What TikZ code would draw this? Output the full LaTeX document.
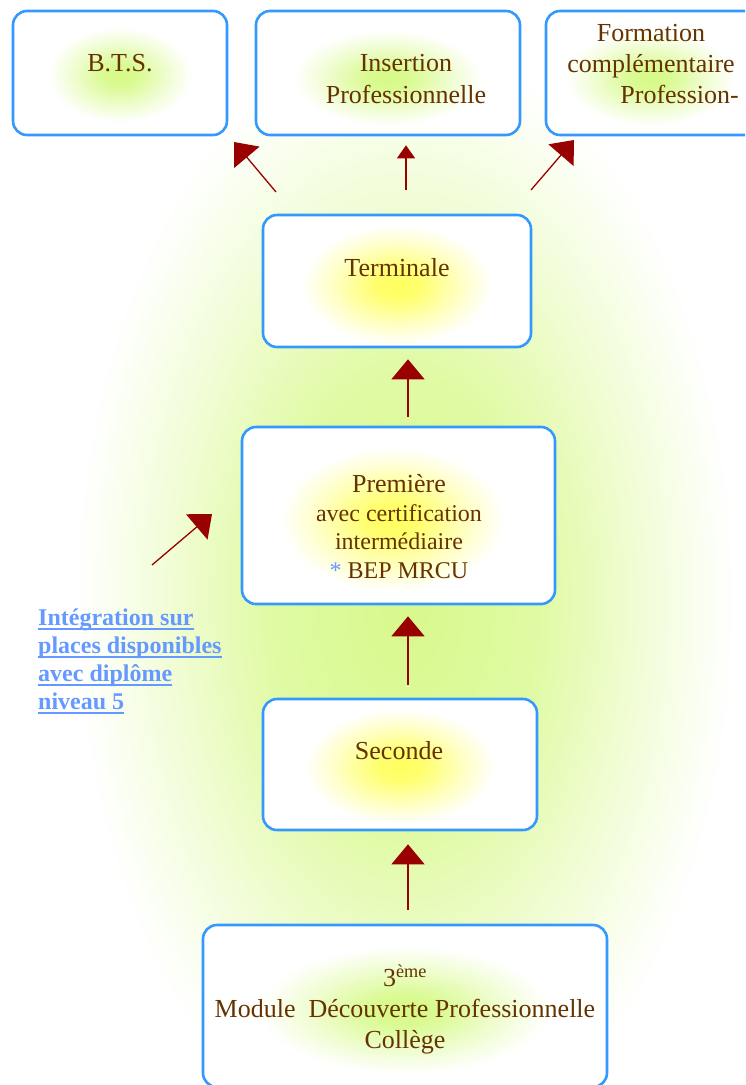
\documentclass[tikz,border=0pt]{standalone}
\usepackage{fontspec}
\setmainfont{Liberation Serif}
\usepackage{xcolor}
\usepackage{tikz}
\usetikzlibrary{arrows.meta}

\definecolor{brun}{RGB}{102,51,0}
\definecolor{bleubord}{RGB}{51,153,255}
\definecolor{bleulien}{RGB}{102,153,255}
\definecolor{rougefleche}{RGB}{153,0,0}
\definecolor{vertpale}{RGB}{214,250,135}
\definecolor{jaune}{RGB}{255,255,95}
\definecolor{fondvert}{RGB}{216,249,140}
\pgfdeclareradialshading{halo}{\pgfpoint{0bp}{0bp}}{color(0bp)=(fondvert); color(10bp)=(fondvert!80!white);
  color(18bp)=(fondvert!35!white); color(25bp)=(white); color(50bp)=(white)}
\pgfdeclareradialshading{lueurjaune}{\pgfpoint{0bp}{0bp}}{color(0bp)=(jaune); color(6bp)=(jaune!90!white);
  color(16bp)=(jaune!40!white); color(25bp)=(white); color(50bp)=(white)}
\pgfdeclareradialshading{lueurverte}{\pgfpoint{0bp}{0bp}}{color(0bp)=(vertpale); color(6bp)=(vertpale!90!white);
  color(16bp)=(vertpale!40!white); color(25bp)=(white); color(50bp)=(white)}

\newcommand{\souligne}[1]{\setbox0\hbox{#1}\rlap{\rule[-5pt]{\wd0}{2.6pt}}\box0}

\begin{document}
\begin{tikzpicture}[x=1pt,y=-1pt,
    cadre/.style={draw=bleubord, line width=2.6pt, rounded corners=14pt, inner sep=0pt, fill=white},
    texte/.style={text=brun, align=center, inner sep=0pt, font=\fontsize{26}{31}\selectfont},
    fleche/.style={draw=rougefleche, line width=1.3pt, -{Triangle[width=33pt,length=20pt]}},
    petite/.style={draw=rougefleche, line width=1.3pt, -{Triangle[width=18pt,length=13pt]}}]
  \useasboundingbox (0,0) rectangle (745,1085);
  \clip (0,0) rectangle (745,1085);
  \shade[shading=halo] (405,600) ellipse [x radius=330, y radius=560];

  % debouches
  \node[cadre, minimum width=214pt, minimum height=124pt] (bts) at (120,73) {};
  \node[cadre, minimum width=264pt, minimum height=124pt] (insertion) at (388,73) {};
  \node[cadre, minimum width=220pt, minimum height=124pt] (formation) at (656,73) {};
  \shade[shading=lueurverte] ([yshift=-2pt]bts.center) ellipse [x radius=72, y radius=48];
  \shade[shading=lueurverte] ([yshift=-5pt]insertion.center) ellipse [x radius=95, y radius=48];
  \shade[shading=lueurverte] ([xshift=-6pt,yshift=-5pt]formation.center) ellipse [x radius=85, y radius=48];
  \node[texte] (bts-t) at (120,63) {B.T.S.};
  \node[texte, font=\fontsize{26}{32}\selectfont] (insertion-t) at (406,79.5) {Insertion\\Professionnelle};
  \node[texte, font=\fontsize{26}{31}\selectfont] (formation-t) at (651,64)
    {Formation\\complémentaire\\\hspace*{2.2em}Profession-};

  % cursus
  \node[cadre, minimum width=268pt, minimum height=132pt] (terminale) at (397,281) {};
  \node[cadre, minimum width=313pt, minimum height=177pt] (premiere) at (398.5,515.5) {};
  \node[cadre, minimum width=274pt, minimum height=131pt] (seconde) at (400,764.5) {};
  \node[cadre, minimum width=404pt, minimum height=162pt] (troisieme) at (405,1006) {};
  \shade[shading=lueurjaune] ([yshift=-4pt]terminale.center) ellipse [x radius=95, y radius=60];
  \shade[shading=lueurjaune] ([xshift=-6pt,yshift=-4pt]premiere.center) ellipse [x radius=112, y radius=72];
  \shade[shading=lueurjaune] ([yshift=-2pt]seconde.center) ellipse [x radius=95, y radius=58];
  \shade[shading=lueurverte] ([yshift=-4pt]troisieme.center) ellipse [x radius=145, y radius=64];
  \node[texte] (terminale-t) at (397,267.5) {Terminale};
  \node[texte, font=\fontsize{24}{28.5}\selectfont] (premiere-t) at (399,526.5)
    {{\fontsize{26}{28.5}\selectfont Première}\\avec certification\\intermédiaire\\
     {\color{bleulien}*} BEP MRCU};
  \node[texte] (seconde-t) at (399,751) {Seconde};
  \node[texte] (troisieme-t) at (405,1009.5)
    {3\textsuperscript{ème}\\Module~ Découverte Professionnelle\\Collège};

  \node[anchor=north west, inner sep=0pt, align=left, text=bleulien,
    font=\bfseries\fontsize{24}{28}\selectfont] (integration) at (38,608.5)
    {\souligne{Intégration sur}\\\souligne{places disponibles}\\
     \souligne{avec diplôme}\\\souligne{niveau 5}};

  % fleches
  \coordinate (axe) at (408,0);
  \draw[fleche, shorten <=14pt, shorten >=13pt] (troisieme.north -| axe) -- (seconde.south -| axe);
  \draw[fleche, shorten <=13pt, shorten >=11pt] (seconde.north -| axe) -- (premiere.south -| axe);
  \draw[fleche, shorten <=9pt, shorten >=11pt] (premiere.north -| axe) -- (terminale.south -| axe);
  \coordinate (depart-bts) at (276,192);
  \coordinate (pointe-bts) at (234,142);
  \coordinate (depart-form) at (531,190);
  \coordinate (pointe-form) at (574,140);
  \coordinate (depart-int) at (152,565);
  \coordinate (pointe-int) at (212,514);
  \draw[fleche] (depart-bts) -- (pointe-bts);
  \draw[petite, shorten <=24pt, shorten >=9pt] (terminale.north -| insertion-t) -- (insertion.south -| insertion-t);
  \draw[fleche] (depart-form) -- (pointe-form);
  \draw[fleche] (depart-int) -- (pointe-int);
\end{tikzpicture}
\end{document}
